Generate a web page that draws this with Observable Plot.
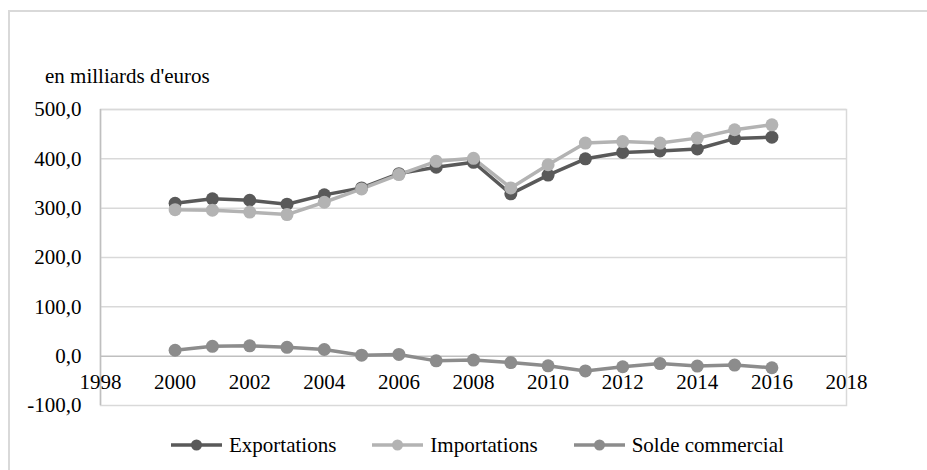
<!DOCTYPE html>
<html>
<head>
<meta charset="utf-8">
<script src="https://cdn.jsdelivr.net/npm/d3@7"></script>
<script src="https://cdn.jsdelivr.net/npm/@observablehq/plot@0.6"></script>
<style>
  html, body { margin: 0; padding: 0; background: #fff; overflow: hidden; }
  #wrap { position: relative; width: 927px; height: 470px; overflow: hidden; color: #000; font-family: serif; }
  #border { position: absolute; left: 8px; top: 10px; width: 1000px; height: 1000px; border: 2px solid #d9d9d9; box-sizing: border-box; }
  #title { position: absolute; left: 45px; top: 64px; font-size: 21px; line-height: 24px; white-space: nowrap; }
  #chart { position: absolute; left: 0; top: 0; }
  #legend { position: absolute; left: 171px; top: 433px; display: flex; align-items: center; font-size: 21px; line-height: 24px; white-space: nowrap; }
  .item { display: flex; align-items: center; margin-right: 36px; }
  .item svg { margin-right: 7px; }
</style>
</head>
<body>
<div id="wrap">
  <div id="border"></div>
  <div id="chart"></div>
  <div id="title">en milliards d'euros</div>
  <div id="legend"></div>
</div>
<script>
const years = [2000, 2001, 2002, 2003, 2004, 2005, 2006, 2007, 2008, 2009, 2010, 2011, 2012, 2013, 2014, 2015, 2016];
const exportations = [310, 319, 316, 308, 327, 341, 370, 383, 393, 329, 367, 400, 413, 416, 420, 441, 444];
const importations = [297, 296, 292, 287, 312, 339, 368, 395, 401, 341, 388, 432, 435, 432, 442, 459, 469];
const solde = [12, 20, 21, 18, 13.5, 2, 3.5, -9.5, -8, -13, -19.5, -30, -21.5, -15, -20, -18, -23.5];
const seriesNames = ["Exportations", "Importations", "Solde commercial"];
const seriesColors = ["#595959", "#b3b3b3", "#8c8c8c"];
const yTicks = [-100, 0, 100, 200, 300, 400, 500];
const xTicks = [1998, 2000, 2002, 2004, 2006, 2008, 2010, 2012, 2014, 2016, 2018];
const gridTicks = [100, 200, 300, 400, 500];

const seriesValues = [exportations, importations, solde];
const data = [];
seriesNames.forEach((name, i) => {
  years.forEach((yr, j) => data.push({series: name, year: yr, value: seriesValues[i][j]}));
});

const fmt = d => d.toFixed(1).replace(".", ",");

const chart = Plot.plot({
  width: 927,
  height: 420,
  marginLeft: 100,
  marginRight: 81,
  marginTop: 109,
  marginBottom: 15,
  style: {fontFamily: "serif", fontSize: "21px", color: "#000", background: "transparent"},
  x: {domain: [1998, 2018], axis: null},
  y: {domain: [-100, 500], label: null},
  color: {domain: seriesNames, range: seriesColors},
  marks: [
    Plot.ruleY(gridTicks, {stroke: "#d9d9d9", strokeWidth: 1.5}),
    Plot.frame({stroke: "#d9d9d9", strokeWidth: 1.5}),
    Plot.ruleX([1998], {stroke: "#bfbfbf", strokeWidth: 1.5}),
    Plot.ruleY([0], {stroke: "#bfbfbf", strokeWidth: 1.5}),
    Plot.axisY({ticks: yTicks, tickSize: 0, tickPadding: 19, tickFormat: fmt, fontSize: 21, fill: "#000", label: null}),
    Plot.text(xTicks, {x: d => d, y: 0, dy: 26, text: d => String(d), fontSize: 21, fill: "#000"}),
    Plot.line(data, {x: "year", y: "value", z: "series", stroke: "series", strokeWidth: 3.5, curve: "linear"}),
    Plot.dot(data, {x: "year", y: "value", fill: "series", r: 6.5, stroke: "none"})
  ]
});
document.getElementById("chart").appendChild(chart);

const legend = document.getElementById("legend");
seriesNames.forEach((name, i) => {
  const item = document.createElement("div");
  item.className = "item";
  item.innerHTML = `<svg width="51" height="14"><line x1="0" y1="7" x2="51" y2="7" stroke="${seriesColors[i]}" stroke-width="3.5"/><circle cx="25.5" cy="7" r="5.5" fill="${seriesColors[i]}"/></svg><span>${name}</span>`;
  legend.appendChild(item);
});
</script>
</body>
</html>
